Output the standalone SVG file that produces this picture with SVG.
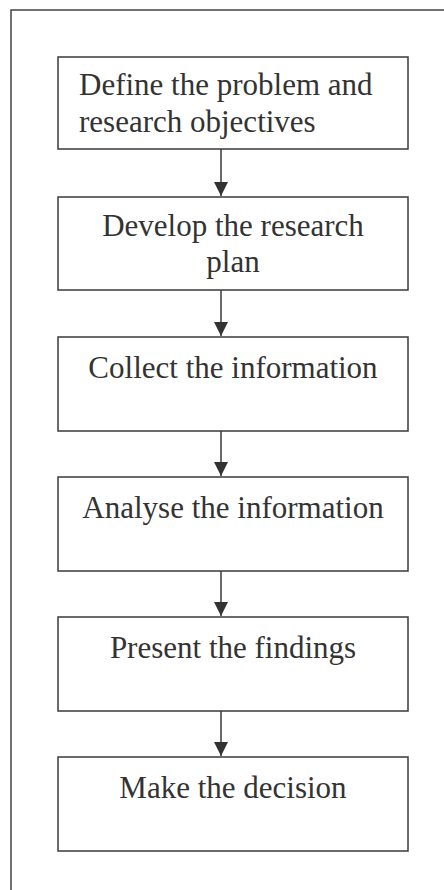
<svg xmlns="http://www.w3.org/2000/svg" width="444" height="890" viewBox="0 0 444 890">
<style>
.frame{fill:none;stroke:#444;stroke-width:1.5}
.box{fill:#fff;stroke:#3a3a3a;stroke-width:1.5}
.lbl{font-family:"Liberation Serif","Times New Roman",serif;font-size:31px;fill:#333}
.c{text-anchor:middle}
.conn{stroke:#3a3a3a;stroke-width:1.5;fill:none}
</style>
<defs>
<marker id="ah" markerUnits="userSpaceOnUse" markerWidth="14" markerHeight="14" viewBox="0 0 14 14" refX="14" refY="7" orient="auto">
<path d="M0,0 L14,7 L0,14 Z" fill="#333"/>
</marker>
</defs>
<rect class="frame" x="11" y="10" width="460" height="900"/>
<g id="n1"><rect class="box" x="58" y="57" width="350" height="92"/><text class="lbl" x="79" y="95">Define the problem and</text><text class="lbl" x="79" y="132">research objectives</text></g>
<g id="n2"><rect class="box" x="58" y="197" width="350" height="93"/><text class="lbl c" x="233" y="236">Develop the research</text><text class="lbl c" x="233" y="272">plan</text></g>
<g id="n3"><rect class="box" x="58" y="337" width="350" height="94"/><text class="lbl c" x="233" y="378">Collect the information</text></g>
<g id="n4"><rect class="box" x="58" y="477" width="350" height="94"/><text class="lbl c" x="233" y="518">Analyse the information</text></g>
<g id="n5"><rect class="box" x="58" y="617" width="350" height="94"/><text class="lbl c" x="233" y="658">Present the findings</text></g>
<g id="n6"><rect class="box" x="58" y="757" width="350" height="94"/><text class="lbl c" x="233" y="798">Make the decision</text></g>
<g id="connectors">
<line class="conn" x1="221" y1="149" x2="221" y2="196" marker-end="url(#ah)"/>
<line class="conn" x1="221" y1="290" x2="221" y2="336" marker-end="url(#ah)"/>
<line class="conn" x1="221" y1="431" x2="221" y2="476" marker-end="url(#ah)"/>
<line class="conn" x1="221" y1="571" x2="221" y2="616" marker-end="url(#ah)"/>
<line class="conn" x1="221" y1="711" x2="221" y2="756" marker-end="url(#ah)"/>
</g>
</svg>
